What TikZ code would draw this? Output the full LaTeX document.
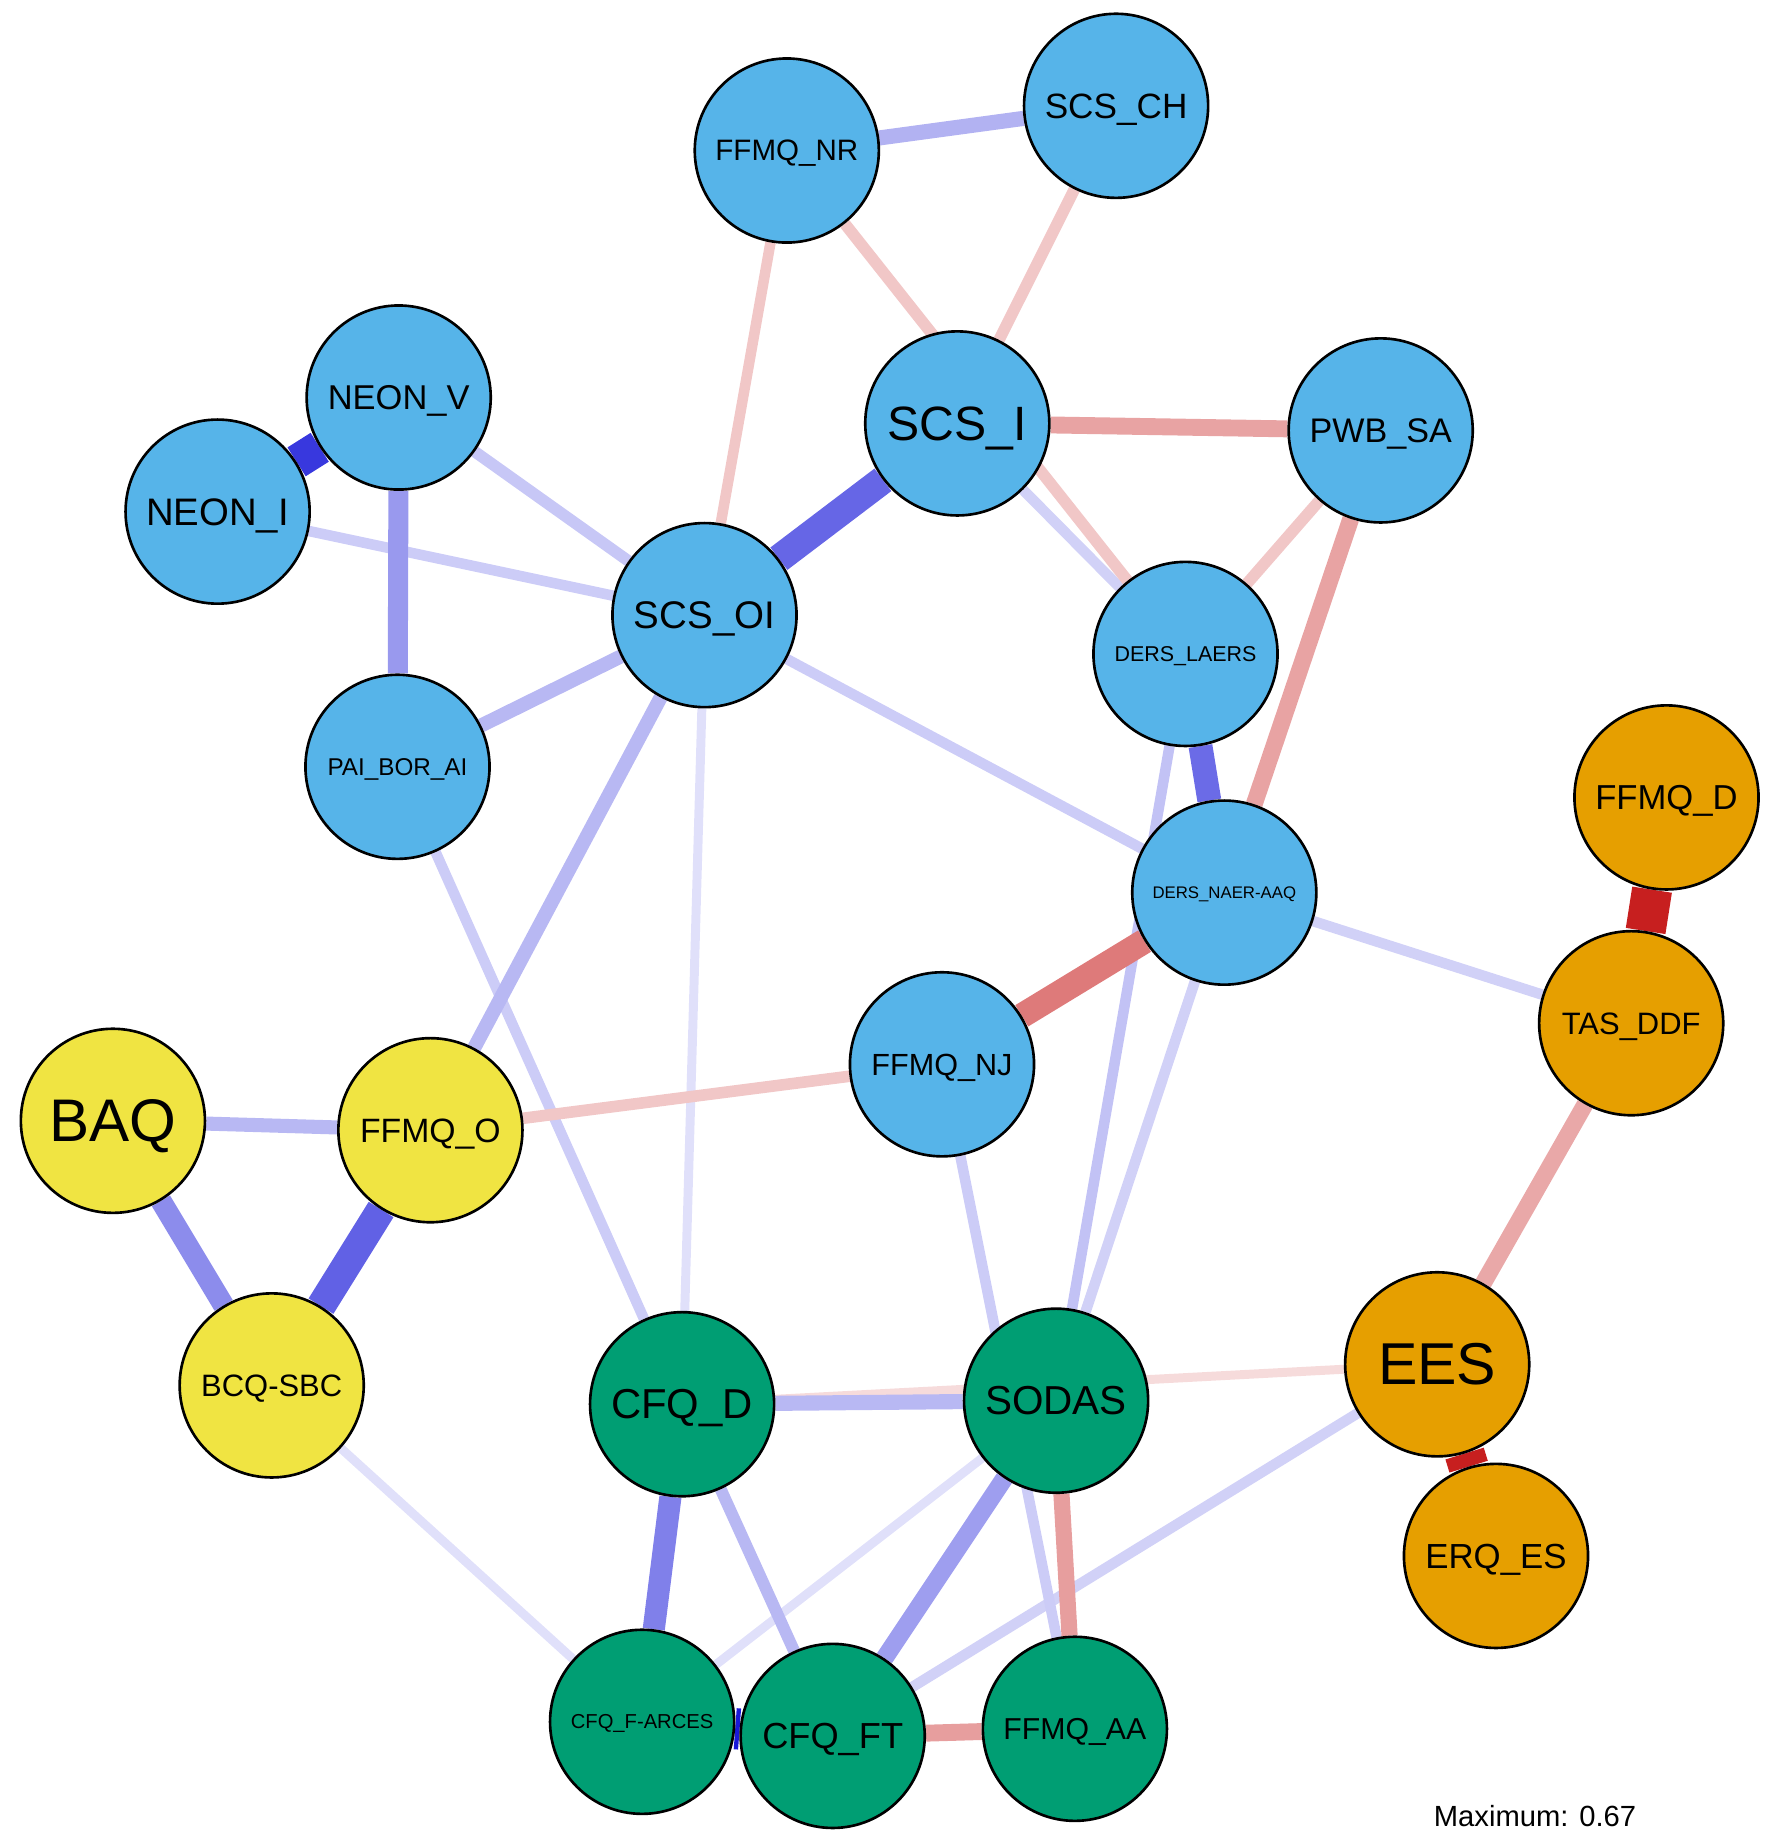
\documentclass[tikz,border=0pt]{standalone}
\usepackage{fontspec}
\setmainfont{Liberation Sans}
\usetikzlibrary{backgrounds}
\definecolor{NetBlue}{HTML}{56B4E9}
\definecolor{NetOrange}{HTML}{E69F00}
\definecolor{NetGreen}{HTML}{009E73}
\definecolor{NetYellow}{HTML}{F0E442}
\definecolor{NetPos}{HTML}{0000D5}
\definecolor{NetNeg}{HTML}{BF0000}
\newcommand{\lsize}[1]{\fontsize{#1}{#1}\selectfont}

\begin{document}
\begin{tikzpicture}[
  x=0.01cm,
  y=-0.01cm,
  item/.style={
    circle,
    draw=black,
    line width=0.75pt,
    minimum size=1.84cm,
    inner sep=0pt,
    text depth=0pt,
    text=black
  },
  blueitem/.style={item,fill=NetBlue},
  orangeitem/.style={item,fill=NetOrange},
  greenitem/.style={item,fill=NetGreen},
  yellowitem/.style={item,fill=NetYellow}
]
\useasboundingbox (0,0) rectangle (1790,1844);

\node[blueitem,font=\lsize{8.4}] (ffmqNR) at (786.8,150.5) {FFMQ\_NR};
\node[blueitem,font=\lsize{10}] (scsCH) at (1116.1,105.8) {SCS\_CH};
\node[blueitem,font=\lsize{9.8}] (neonV) at (398.7,397.5) {NEON\_V};
\node[blueitem,font=\lsize{10.9}] (neonI) at (217.6,511.6) {NEON\_I};
\node[blueitem,font=\lsize{13.7}] (scsI) at (957.3,423.4) {SCS\_I};
\node[blueitem,font=\lsize{9.7}] (pwbSA) at (1380.7,430.4) {PWB\_SA};
\node[blueitem,font=\lsize{10.95}] (scsOI) at (704.5,615.1) {SCS\_OI};
\node[blueitem,font=\lsize{6.1}] (dersL) at (1185.5,653.9) {DERS\_LAERS};
\node[blueitem,font=\lsize{6.9}] (paiBOR) at (397.5,766.8) {PAI\_BOR\_AI};
\node[blueitem,font=\lsize{4.77}] (dersN) at (1224.3,892.6) {DERS\_NAER-AAQ};
\node[blueitem,font=\lsize{8.7}] (ffmqNJ) at (942.0,1064.3) {FFMQ\_NJ};

\node[orangeitem,font=\lsize{9.85}] (ffmqD) at (1666.5,797.4) {FFMQ\_D};
\node[orangeitem,font=\lsize{8.8}] (tasDDF) at (1631.2,1023.2) {TAS\_DDF};
\node[orangeitem,font=\lsize{16.8}] (ees) at (1437.2,1364.3) {EES};
\node[orangeitem,font=\lsize{9.9}] (erqES) at (1496.0,1555.9) {ERQ\_ES};

\node[yellowitem,font=\lsize{17.1}] (baq) at (112.9,1120.8) {BAQ};
\node[yellowitem,font=\lsize{9.6}] (ffmqO) at (430.4,1130.2) {FFMQ\_O};
\node[yellowitem,font=\lsize{8.8}] (bcq) at (271.7,1385.4) {BCQ-SBC};

\node[greenitem,font=\lsize{11.9}] (cfqD) at (682.1,1404.2) {CFQ\_D};
\node[greenitem,font=\lsize{11.5}] (sodas) at (1056.1,1400.7) {SODAS};
\node[greenitem,font=\lsize{5.74}] (cfqFA) at (642.1,1721.8) {CFQ\_F-ARCES};
\node[greenitem,font=\lsize{10.3}] (cfqFT) at (832.7,1735.9) {CFQ\_FT};
\node[greenitem,font=\lsize{8.6}] (ffmqAA) at (1074.9,1728.8) {FFMQ\_AA};

\node[font=\lsize{8.3}] (maxnote) at (1535,1816) {Maximum: 0.67};

% edges, weakest first
\begin{scope}[on background layer]
\foreach \a/\b/\c/\s/\w in {
  scsOI/cfqD/NetPos/12/2.55, bcq/cfqFA/NetPos/12/2.55, sodas/cfqFA/NetPos/12/2.55,
  ees/cfqD/NetNeg/14/2.55,
  dersN/sodas/NetPos/18/3.0, dersN/tasDDF/NetPos/18/3.0,
  ees/cfqFT/NetPos/18/3.0, scsI/dersL/NetPos/18/3.0,
  neonI/scsOI/NetPos/20/3.0, scsOI/dersN/NetPos/20/3.0,
  paiBOR/cfqD/NetPos/20/3.0, ffmqNJ/ffmqAA/NetPos/20/3.0,
  ffmqNR/scsOI/NetNeg/22/3.0, ffmqNR/dersL/NetNeg/22/3.3,
  scsCH/scsI/NetNeg/22/3.3, pwbSA/dersL/NetNeg/22/3.3,
  ffmqNJ/ffmqO/NetNeg/22/3.3, neonV/scsOI/NetPos/22/3.3,
  dersL/sodas/NetPos/24/3.0, cfqD/cfqFT/NetPos/28/3.4,
  scsOI/ffmqO/NetPos/28/4.0, scsOI/paiBOR/NetPos/28/4.0,
  baq/ffmqO/NetPos/28/4.0, cfqD/sodas/NetPos/28/4.3,
  ffmqNR/scsCH/NetPos/30/4.3,
  tasDDF/ees/NetNeg/34/4.8, scsI/pwbSA/NetNeg/36/4.8,
  pwbSA/dersN/NetNeg/36/4.8, sodas/ffmqAA/NetNeg/38/4.6,
  cfqFT/ffmqAA/NetNeg/38/4.8, sodas/cfqFT/NetPos/38/5.1,
  neonV/paiBOR/NetPos/40/5.7, baq/bcq/NetPos/45/6.0,
  cfqD/cfqFA/NetPos/50/6.3, dersN/ffmqNJ/NetNeg/52/7.1,
  dersL/dersN/NetPos/58/6.8, scsOI/scsI/NetPos/60/8.0,
  ffmqO/bcq/NetPos/62/8.3, neonI/neonV/NetPos/78/9.7,
  ees/erqES/NetNeg/88/11.4, ffmqD/tasDDF/NetNeg/88/11.4,
  cfqFA/cfqFT/NetPos/90/11.7} {
  \draw[draw=\c!\s!white, line width=\w pt] (\a) -- (\b);
}
\end{scope}

\end{tikzpicture}
\end{document}
